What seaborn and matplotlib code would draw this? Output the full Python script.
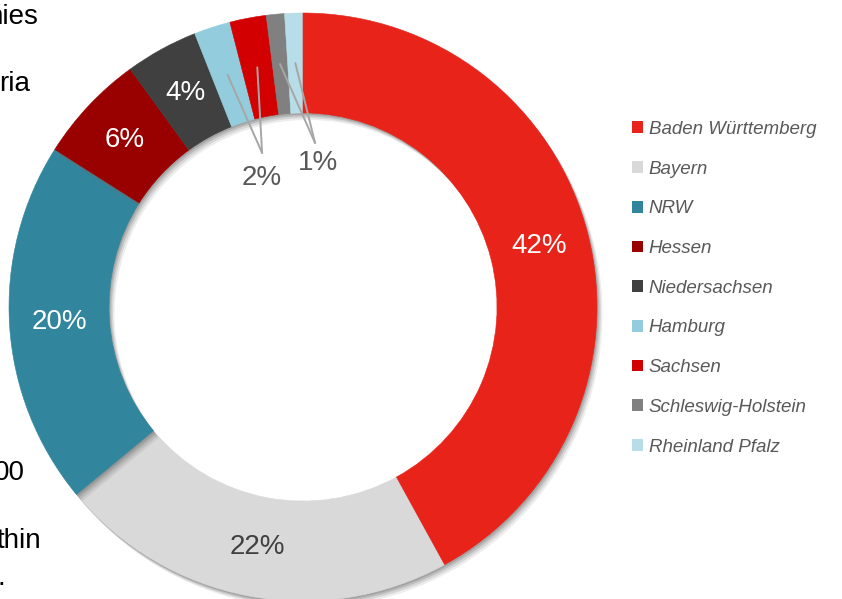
import matplotlib
matplotlib.use("Agg")
import matplotlib.pyplot as plt
import matplotlib.patches as mpatches
import seaborn as sns
import numpy as np

# share of locations per federal state
states = ['Baden Württemberg', 'Bayern', 'NRW', 'Hessen', 'Niedersachsen',
          'Hamburg', 'Sachsen', 'Schleswig-Holstein', 'Rheinland Pfalz']
shares = [42, 22, 20, 6, 4, 2, 2, 1, 1]
colors = ['#E8231A', '#D9D9D9', '#31859C', '#990000', '#404040',
          '#93CDDD', '#D20000', '#808080', '#B7DEE8']
label_colors = ['white', '#404040', 'white', 'white', 'white',
                '#595959', '#595959', '#595959', '#595959']

# small slices get one shared label with leader lines
small_groups = [(['Hamburg', 'Sachsen'], '2%'), (['Schleswig-Holstein', 'Rheinland Pfalz'], '1%')]
group_anchor = {'2%': (-0.139, 0.524), '1%': (0.041, 0.558)}
group_text = {'2%': (-0.139, 0.44), '1%': (0.052, 0.49)}

# stacking order of slices (later ones cast their shadow over earlier ones)
draw_order = ['Bayern', 'NRW', 'Hessen', 'Niedersachsen', 'Hamburg', 'Sachsen',
              'Schleswig-Holstein', 'Rheinland Pfalz', 'Baden Württemberg']

# fragments of a neighbouring text box, cut off by the left edge
side_text = ['nies', 'ria', '00', 'thin', '.']
side_text_y = [24, 91, 480, 548, 585]
side_text_x = [38, 30, 25, 41, 5]

sns.set_theme(style='white')
plt.rcParams['font.family'] = ['Liberation Sans', 'DejaVu Sans']

W, H = 842, 599
DPI = 100
fig = plt.figure(figsize=(W / DPI, H / DPI), dpi=DPI)
fig.patch.set_facecolor('white')

cx, cy, R = 303, 307, 294
ax = fig.add_axes([(cx - R) / W, (H - cy - R) / H, 2 * R / W, 2 * R / H])


def pct_fmt(p):
    return f'{p:.0f}%' if p >= 3 else ''


def px_shift(px):
    # Shadow offsets are data units scaled by dpi/72
    return px / R * 72 / DPI


wedges, texts, autotexts = ax.pie(
    shares, colors=colors, startangle=90, counterclock=False, radius=1,
    autopct=pct_fmt, pctdistance=0.83,
    wedgeprops=dict(width=0.34, linewidth=0),
    textprops=dict(fontsize=20))

ax.set_xlim(-1, 1)
ax.set_ylim(-1, 1)
ax.set_aspect('equal')
ax.axis('off')

for i, t in enumerate(autotexts):
    t.set_color(label_colors[i])

# soft drop shadow: a few offset layers under each slice
shadow_layers = [(5.5, 7.0, 0.12), (4.0, 5.2, 0.18), (2.5, 3.4, 0.25), (1.2, 1.8, 0.3)]
for rank, name in enumerate(draw_order):
    w = wedges[states.index(name)]
    w.set_edgecolor(w.get_facecolor())
    w.set_linewidth(0.4)
    w.set_clip_on(False)
    w.set_zorder(3 + 2 * rank)
    for k, (dx, dy, a) in enumerate(shadow_layers):
        shad = mpatches.Shadow(w, px_shift(dx), -px_shift(dy), facecolor='#6e6e6e',
                               edgecolor='none', alpha=a)
        ax.add_patch(shad)
        shad.set_zorder(2 + 2 * rank + 0.1 * k)
        shad.set_clip_on(False)

for t in autotexts:
    t.set_zorder(40)

# leader lines for the small slices
for names, lab in small_groups:
    ex, ey = group_anchor[lab]
    for name in names:
        w = wedges[states.index(name)]
        mid = np.deg2rad((w.theta1 + w.theta2) / 2)
        r = 0.83
        ax.plot([r * np.cos(mid), ex], [r * np.sin(mid), ey], color='#A6A6A6', lw=1.4, zorder=41)
    tx, ty = group_text[lab]
    ax.text(tx, ty, lab, ha='center', va='center', fontsize=20, color='#595959', zorder=42)

handles = [mpatches.Rectangle((0, 0), 1, 1, facecolor=c, edgecolor='none') for c in colors]
leg = fig.legend(handles, states, loc='upper left', bbox_to_anchor=(632 / W, 1 - 121 / H),
                 frameon=False, fontsize=13.5, handlelength=0.6, handleheight=0.6,
                 handletextpad=0.3, labelspacing=1.21, borderpad=0, borderaxespad=0)
for t in leg.get_texts():
    t.set_color('#595959')
    t.set_fontstyle('italic')

for s, x, y in zip(side_text, side_text_x, side_text_y):
    fig.text(x / W, 1 - y / H, s, ha='right', va='baseline', fontsize=20, color='black')

fig.savefig('out.png', dpi=DPI)
